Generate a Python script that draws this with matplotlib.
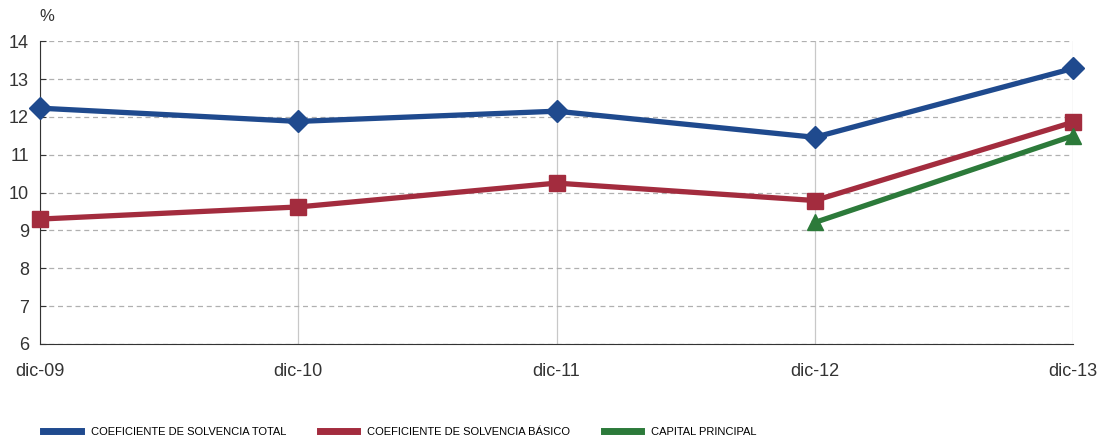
import matplotlib.pyplot as plt
from matplotlib.lines import Line2D

# --- data ---
periods = ['dic-09', 'dic-10', 'dic-11', 'dic-12', 'dic-13']
solvencia_total = [12.23, 11.88, 12.15, 11.46, 13.28]
solvencia_basico = [9.30, 9.62, 10.25, 9.79, 11.86]
capital_periods = ['dic-12', 'dic-13']
capital_principal = [9.21, 11.50]

labels = ['COEFICIENTE DE SOLVENCIA TOTAL',
          'COEFICIENTE DE SOLVENCIA BÁSICO',
          'CAPITAL PRINCIPAL']
colors = ['#1f4a8e', '#a32c3e', '#2c7a3a']

plt.rcParams['font.family'] = ['Liberation Sans', 'DejaVu Sans']

fig = plt.figure(figsize=(11.01, 4.45), dpi=100)
ax = fig.add_axes([0.0363, 0.227, 0.9383, 0.6805])

x_all = list(range(len(periods)))
x_cap = [periods.index(p) for p in capital_periods]

ax.plot(x_all, solvencia_total, color=colors[0], lw=3.8, marker='D', ms=11,
        zorder=4, clip_on=False)
ax.plot(x_all, solvencia_basico, color=colors[1], lw=3.8, marker='s', ms=11,
        zorder=3, clip_on=False)
ax.plot(x_cap, capital_principal, color=colors[2], lw=3.8, marker='^', ms=11,
        zorder=3, clip_on=False)

ax.set_xlim(0, len(periods) - 1)
ax.set_ylim(6, 14)
ax.set_yticks(range(6, 15))
ax.set_xticks(x_all)
ax.set_xticklabels(periods)

ax.yaxis.grid(True, color='#b0b0b0', ls=(0, (4, 3)), lw=0.9)
ax.xaxis.grid(True, color='#c8c8c8', ls='-', lw=0.9)
ax.set_axisbelow(True)
for s in ['top', 'right']:
    ax.spines[s].set_visible(False)
ax.spines['left'].set_color('#333333')
ax.spines['bottom'].set_color('#333333')
ax.tick_params(axis='y', direction='in', length=4, labelsize=13, pad=8, colors='#333333')
ax.tick_params(axis='x', length=0, labelsize=13, pad=14, colors='#333333')

fig.text(0.036, 0.962, '%', fontsize=12, color='#333333', ha='left', va='center')

handles = [Line2D([], [], color=c, lw=5) for c in colors]
fig.legend(handles, labels, loc='lower left', bbox_to_anchor=(0.03, -0.005),
           ncol=3, frameon=False, fontsize=8, handlelength=3.4,
           columnspacing=3.0, handletextpad=0.9)

fig.savefig('out.png', dpi=100)
